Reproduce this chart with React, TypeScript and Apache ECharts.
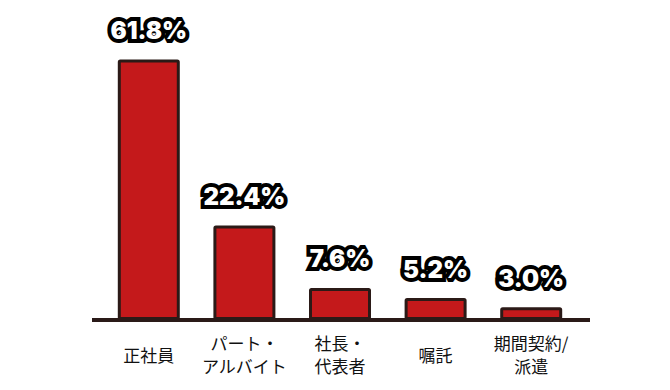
import React, { useEffect, useRef } from "react";
import * as echarts from "echarts";

const categories = ["正社員", "パート・\nアルバイト", "社長・\n代表者", "嘱託", "期間契約/\n派遣"];
const values = [61.8, 22.4, 7.6, 5.2, 3.0];

export default function App() {
  const ref = useRef<HTMLDivElement>(null);
  useEffect(() => {
    if (!ref.current) return;
    const chart = echarts.init(ref.current, null, { renderer: "svg" });
    chart.setOption({
      animation: false,
      backgroundColor: "#ffffff",
      grid: { left: 93, width: 478, top: 17, bottom: 78, containLabel: false },
      xAxis: {
        type: "category",
        data: categories,
        axisLine: { show: false },
        axisTick: { show: false },
        axisLabel: {
          color: "#111111",
          fontSize: 17,
          lineHeight: 23,
          fontFamily: "Noto Sans CJK JP",
          verticalAlign: "middle",
          margin: 34,
          interval: 0,
        },
      },
      yAxis: {
        type: "value",
        min: 0,
        max: 70,
        show: false,
        splitLine: { show: false },
      },
      graphic: [
        {
          type: "line",
          shape: { x1: 84, y1: 312, x2: 582, y2: 312 },
          style: { stroke: "#2a1a18", lineWidth: 4 },
          z: 10,
        },
      ],
      series: [
        {
          type: "bar",
          data: values,
          barWidth: 62,
          itemStyle: {
            color: "#c4191b",
            borderColor: "#2b1a17",
            borderWidth: 3,
            borderRadius: 1,
          },
          label: {
            show: true,
            position: "top",
            distance: 17,
            formatter: (p: any) => p.value.toFixed(1) + "%",
            color: "#ffffff",
            fontSize: 24,
            fontWeight: 900,
            fontFamily: "Inter",
            textBorderColor: "#000000",
            textBorderWidth: 8,
          },
        },
      ],
    });
    return () => chart.dispose();
  }, []);
  return <div ref={ref} style={{ width: 670, height: 390 }} />;
}
